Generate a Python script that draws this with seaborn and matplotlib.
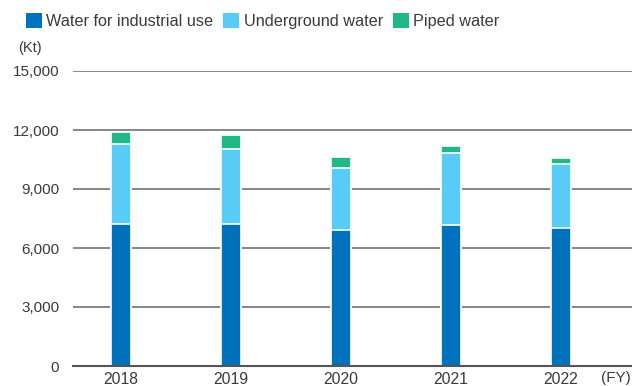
import matplotlib
matplotlib.use("Agg")
import matplotlib.pyplot as plt
from matplotlib.patches import Patch
import seaborn as sns
import pandas as pd

# Water intake by source (Kt), fiscal years
years = ["2018", "2019", "2020", "2021", "2022"]
industrial = [7230, 7230, 6900, 7190, 7030]
underground = [4040, 3820, 3185, 3660, 3260]
piped = [630, 710, 545, 355, 305]

series_names = ["Water for industrial use", "Underground water", "Piped water"]
colors = ["#0071BC", "#58CCF6", "#20B886"]
yticks = [0, 3000, 6000, 9000, 12000, 15000]

sns.set_theme(style="white")
plt.rcParams["font.family"] = ["Liberation Sans", "DejaVu Sans"]
text_color = "#3a3a3a"

df = pd.DataFrame({"year": years, "industrial": industrial,
                   "underground": underground, "piped": piped})
df["lvl1"] = df["industrial"]
df["lvl2"] = df["industrial"] + df["underground"]
df["lvl3"] = df["lvl2"] + df["piped"]

fig = plt.figure(figsize=(6.32, 3.86), dpi=100)
ax = fig.add_axes([73 / 632, 1 - 366 / 386, 1 - 73 / 632, (366 - 71) / 386])

# stacked bars drawn as cumulative layers, tallest first
for col, c in zip(["lvl3", "lvl2", "lvl1"], colors[::-1]):
    sns.barplot(data=df, x="year", y=col, color=c, width=0.18,
                edgecolor="white", linewidth=1.2, saturation=1, ax=ax, zorder=3)

ax.set_ylim(0, 15000)
ax.set_xlim(-0.436, 4.645)
ax.set_yticks(yticks)
ax.set_yticklabels([f"{v:,}" for v in yticks])
ax.yaxis.grid(True, color="#7d7d7d", linewidth=1.3)
ax.set_axisbelow(True)
for s in ["left", "right", "top"]:
    ax.spines[s].set_visible(False)
ax.spines["bottom"].set_color("#555555")
ax.spines["bottom"].set_linewidth(1.5)
ax.spines["bottom"].set_zorder(6)
ax.tick_params(axis="both", length=0, colors=text_color)
ax.tick_params(axis="y", pad=10, labelsize=11)
ax.tick_params(axis="x", pad=4, labelsize=11.3)
ax.set_xlabel("")
ax.set_ylabel("")

fig.text(18 / 632, 1 - 48 / 386, "(Kt)", fontsize=10.5, color=text_color,
         ha="left", va="center")
fig.text(631 / 632, 1 - 378 / 386, "(FY)", fontsize=11, color=text_color,
         ha="right", va="center")

handles = [Patch(facecolor=c, edgecolor="none") for c in colors]
fig.legend(handles, series_names, loc="center left",
           bbox_to_anchor=(26 / 632, 1 - 21 / 386), ncol=3, frameon=False,
           fontsize=11.7, handlelength=1.0, handleheight=1.0,
           handletextpad=0.25, columnspacing=0.6, borderaxespad=0,
           borderpad=0, labelcolor=text_color)

fig.savefig("out.png", dpi=100)
